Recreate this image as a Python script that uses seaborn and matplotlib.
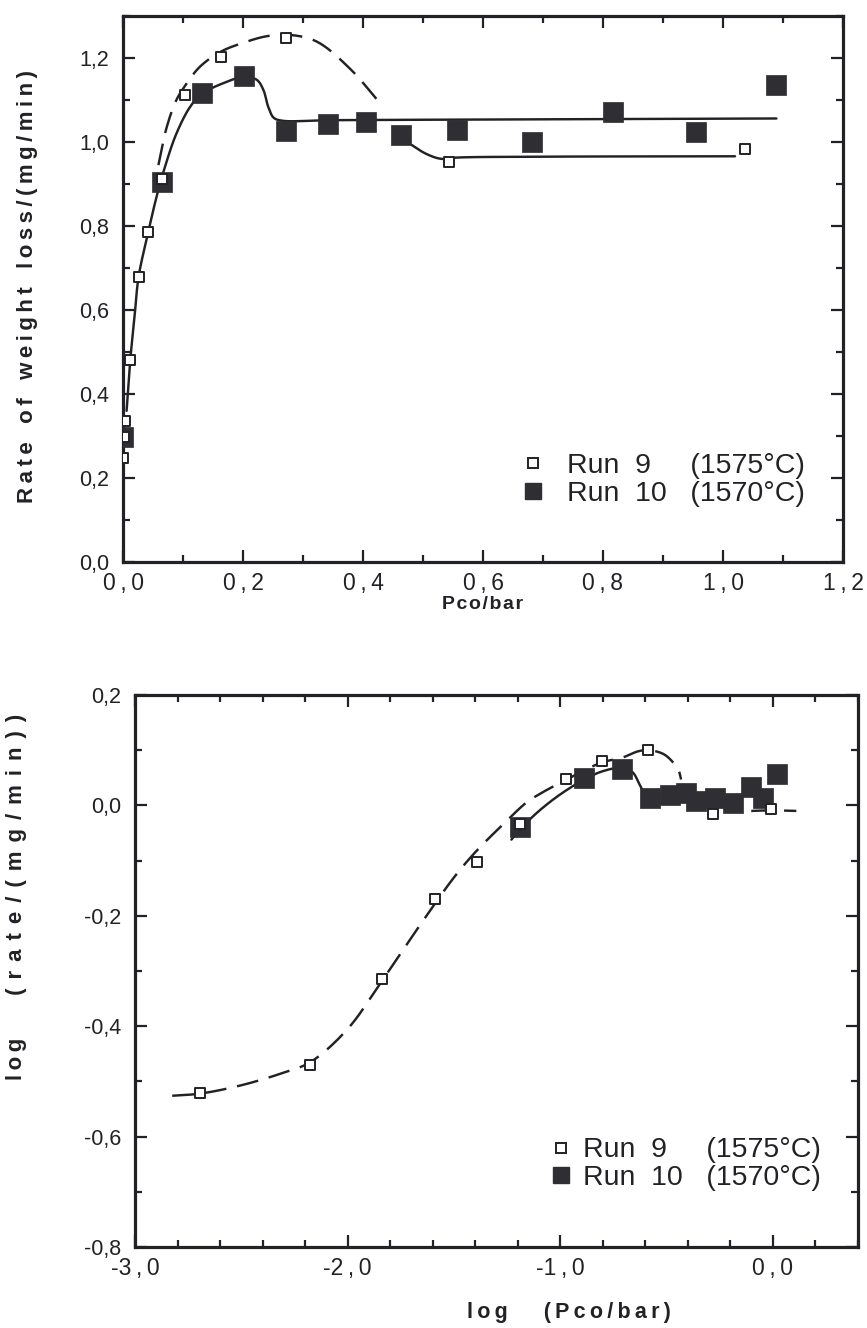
import numpy as np
import pandas as pd
import matplotlib
matplotlib.use("Agg")
import matplotlib.pyplot as plt
import seaborn as sns
from matplotlib.lines import Line2D
from matplotlib.ticker import MultipleLocator, FuncFormatter

# ---------------- data: linear scale (upper panel) ----------------
run9_p = [0.0, 0.002, 0.003, 0.012, 0.026, 0.042, 0.065, 0.104, 0.163, 0.271, 0.543, 1.037]
run9_rate = [0.248, 0.298, 0.336, 0.481, 0.679, 0.785, 0.913, 1.112, 1.203, 1.248, 0.953, 0.983]

run10_p = [0.0, 0.0645, 0.131, 0.202, 0.272, 0.342, 0.405, 0.463, 0.557, 0.682, 0.816, 0.955, 1.089]
run10_rate = [0.298, 0.905, 1.116, 1.156, 1.027, 1.043, 1.048, 1.017, 1.029, 1.001, 1.071, 1.025, 1.136]

# ---------------- data: log-log scale (lower panel) ----------------
run9_logp = [-2.692, -2.175, -1.839, -1.588, -1.393, -1.189, -0.975, -0.803, -0.587, -0.282, -0.008]
run9_lograte = [-0.521, -0.471, -0.315, -0.169, -0.103, -0.034, 0.048, 0.080, 0.100, -0.016, -0.007]

run10_logp = [-1.189, -0.887, -0.712, -0.579, -0.485, -0.407, -0.360, -0.274, -0.188, -0.102, -0.047, 0.020]
run10_lograte = [-0.040, 0.050, 0.066, 0.014, 0.018, 0.023, 0.008, 0.014, 0.004, 0.034, 0.014, 0.056]

# ---------------- hand-drawn guide curves (knots) ----------------
# upper panel
top_solid10_x = [0.006, 0.012, 0.019, 0.026, 0.042, 0.056, 0.070, 0.089, 0.112, 0.131, 0.167,
                 0.202, 0.223, 0.234, 0.242, 0.251, 0.264, 0.350, 1.089]
top_solid10_y = [0.360, 0.480, 0.580, 0.679, 0.785, 0.870, 0.941, 1.020, 1.084, 1.114, 1.140,
                 1.155, 1.148, 1.124, 1.084, 1.058, 1.051, 1.052, 1.056]
top_dash9_x = [0.059, 0.073, 0.089, 0.104, 0.128, 0.163, 0.200, 0.240, 0.278, 0.323, 0.378, 0.431]
top_dash9_y = [0.945, 1.036, 1.100, 1.135, 1.179, 1.215, 1.236, 1.252, 1.255, 1.239, 1.175, 1.088]
top_solid9_x = [0.481, 0.505, 0.530, 0.558, 0.700, 1.020]
top_solid9_y = [0.993, 0.972, 0.960, 0.963, 0.965, 0.966]

# lower panel
bot_dash9_x = [-2.825, -2.692, -2.500, -2.300, -2.175, -2.000, -1.839, -1.651, -1.495, -1.393,
               -1.260, -1.160, -1.100, -0.975, -0.803, -0.712, -0.634, -0.587, -0.510, -0.446, -0.432]
bot_dash9_y = [-0.526, -0.522, -0.507, -0.484, -0.465, -0.405, -0.318, -0.212, -0.128, -0.082,
               -0.031, 0.005, 0.020, 0.046, 0.078, 0.086, 0.098, 0.100, 0.092, 0.065, 0.047]
bot_solid10_x = [-1.230, -1.189, -1.100, -1.000, -0.887, -0.800, -0.712, -0.660, -0.630, -0.600]
bot_solid10_y = [-0.062, -0.043, -0.010, 0.020, 0.047, 0.062, 0.068, 0.060, 0.040, 0.017]
bot_tail9_x = [-0.102, -0.008, 0.110]
bot_tail9_y = [-0.010, -0.009, -0.010]

INK = "#222226"
FILL10 = "#2e2e33"
THIN = "\u2009"
HAIR = "\u200a"


def catmull_rom(xs, ys, sx=1.0, sy=1.0, per_seg=18):
    """Centripetal Catmull-Rom curve through the given knots."""
    P = np.column_stack([np.asarray(xs, float) * sx, np.asarray(ys, float) * sy])
    P = np.vstack([2 * P[0] - P[1], P, 2 * P[-1] - P[-2]])
    pts = []
    for i in range(1, len(P) - 2):
        p0, p1, p2, p3 = P[i - 1], P[i], P[i + 1], P[i + 2]
        t0 = 0.0
        t1 = t0 + max(np.linalg.norm(p1 - p0), 1e-9) ** 0.5
        t2 = t1 + max(np.linalg.norm(p2 - p1), 1e-9) ** 0.5
        t3 = t2 + max(np.linalg.norm(p3 - p2), 1e-9) ** 0.5
        t = np.linspace(t1, t2, per_seg, endpoint=False)[:, None]
        A1 = (t1 - t) / (t1 - t0) * p0 + (t - t0) / (t1 - t0) * p1
        A2 = (t2 - t) / (t2 - t1) * p1 + (t - t1) / (t2 - t1) * p2
        A3 = (t3 - t) / (t3 - t2) * p2 + (t - t2) / (t3 - t2) * p3
        B1 = (t2 - t) / (t2 - t0) * A1 + (t - t0) / (t2 - t0) * A2
        B2 = (t3 - t) / (t3 - t1) * A2 + (t - t1) / (t3 - t1) * A3
        C = (t2 - t) / (t2 - t1) * B1 + (t - t1) / (t2 - t1) * B2
        pts.append(C)
    pts.append(P[-2][None, :])
    pts = np.vstack(pts)
    return pd.DataFrame({"x": pts[:, 0] / sx, "y": pts[:, 1] / sy})


def tracked(text, gap=THIN, word_gap="    "):
    """Letter-spaced label text."""
    words = text.split(" ")
    return word_gap.join(gap.join(w) for w in words if w)


def comma_fmt(spaced):
    def f(v, pos):
        s = f"{v:.1f}"
        if s == "-0.0":
            s = "0.0"
        a, b = s.split(".")
        return f"{a}{THIN},{THIN}{b}" if spaced else f"{a},{b}"
    return FuncFormatter(f)


sns.set_theme(style="ticks")
plt.rcParams["font.family"] = ["Liberation Sans", "DejaVu Sans"]
plt.rcParams["text.color"] = INK
plt.rcParams["axes.labelcolor"] = INK
plt.rcParams["xtick.color"] = INK
plt.rcParams["ytick.color"] = INK
plt.rcParams["axes.edgecolor"] = INK

fig = plt.figure(figsize=(8.67, 13.28), dpi=100)
W, H = 867.0, 1328.0
ax1 = fig.add_axes([123 / W, 1 - 562 / H, 720 / W, 546 / H])
ax2 = fig.add_axes([135 / W, 1 - 1247 / H, 723 / W, 552 / H])

LW = 1.75
DASH = (0, (9, 4.5))
OPEN_S = 56
FILL_S = 195


def style_axes(ax):
    for sp in ax.spines.values():
        sp.set_linewidth(2.3)
        sp.set_color(INK)
        sp.set_visible(True)
    ax.tick_params(which="both", direction="in", top=True, right=True, width=1.6, color=INK)
    ax.tick_params(which="major", length=8.5)
    ax.tick_params(which="minor", length=5)
    ax.tick_params(axis="x", labelsize=16.5, pad=7)
    ax.tick_params(axis="y", labelsize=15.5, pad=10)
    ax.set_facecolor("white")


def draw_points(ax, x9, y9, x10, y10):
    sns.scatterplot(x=x10, y=y10, ax=ax, marker="s", s=FILL_S, color=FILL10,
                    edgecolor=FILL10, linewidth=0.5, zorder=4, legend=False)
    sns.scatterplot(x=x9, y=y9, ax=ax, marker="s", s=OPEN_S, color="white",
                    edgecolor=INK, linewidth=1.4, zorder=5, legend=False)


def draw_curve(ax, xs, ys, sx, sy, dashed):
    d = catmull_rom(xs, ys, sx, sy)
    kw = dict(linestyle=DASH) if dashed else {}
    sns.lineplot(data=d, x="x", y="y", ax=ax, sort=False, estimator=None, color=INK,
                 linewidth=LW, zorder=3, legend=False, **kw)


def add_legend(ax, anchor, handlelen, textpad):
    h9 = Line2D([], [], linestyle="none", marker="s", markersize=6.8, markerfacecolor="white",
                markeredgecolor=INK, markeredgewidth=1.4)
    h10 = Line2D([], [], linestyle="none", marker="s", markersize=11.5, markerfacecolor=FILL10,
                 markeredgecolor=FILL10)
    ax.legend([h9, h10], ["Run  9     (1575°C)", "Run  10   (1570°C)"], loc="center left",
              bbox_to_anchor=anchor, frameon=False, fontsize=20.5, handlelength=handlelen,
              handletextpad=textpad, borderpad=0, borderaxespad=0, labelspacing=0.05)


# ---------------- upper panel ----------------
style_axes(ax1)
draw_curve(ax1, top_solid10_x, top_solid10_y, 600, 420, False)
draw_curve(ax1, top_dash9_x, top_dash9_y, 600, 420, True)
draw_curve(ax1, top_solid9_x, top_solid9_y, 600, 420, False)
draw_points(ax1, run9_p, run9_rate, run10_p, run10_rate)
ax1.set_xlim(0, 1.2)
ax1.set_ylim(0, 1.3)
ax1.xaxis.set_major_locator(MultipleLocator(0.2))
ax1.xaxis.set_minor_locator(MultipleLocator(0.1))
ax1.yaxis.set_major_locator(MultipleLocator(0.2))
ax1.yaxis.set_minor_locator(MultipleLocator(0.1))
ax1.xaxis.set_major_formatter(comma_fmt(True))
ax1.yaxis.set_major_formatter(comma_fmt(False))
ax1.set_xlabel(tracked("Pco/bar", gap=HAIR), fontsize=14, fontweight="bold")
ax1.set_ylabel(tracked("Rate of weight loss/(mg/min)", word_gap="   "), fontsize=16,
               fontweight="bold")
ax1.xaxis.set_label_coords(0.5, -0.062)
ax1.yaxis.set_label_coords(-0.118, 0.505)
add_legend(ax1, (0.55, 0.15), 1.0, 0.7)

# ---------------- lower panel ----------------
style_axes(ax2)
draw_curve(ax2, bot_dash9_x, bot_dash9_y, 213, 552, True)
draw_curve(ax2, bot_solid10_x, bot_solid10_y, 213, 552, False)
draw_curve(ax2, bot_tail9_x, bot_tail9_y, 213, 552, True)
draw_points(ax2, run9_logp, run9_lograte, run10_logp, run10_lograte)
ax2.set_xlim(-3.0, 0.4)
ax2.set_ylim(-0.8, 0.2)
ax2.xaxis.set_major_locator(MultipleLocator(1.0))
ax2.xaxis.set_minor_locator(MultipleLocator(0.2))
ax2.yaxis.set_major_locator(MultipleLocator(0.2))
ax2.yaxis.set_minor_locator(MultipleLocator(0.1))
ax2.xaxis.set_major_formatter(comma_fmt(True))
ax2.yaxis.set_major_formatter(comma_fmt(False))
ax2.set_xlabel(tracked("log") + "      " + tracked("(Pco/bar)"), fontsize=15.5, fontweight="bold")
ax2.set_ylabel(tracked("log") + "       " + tracked("(rate/(mg/min))", gap=THIN + THIN),
               fontsize=16, fontweight="bold")
ax2.xaxis.set_label_coords(0.60, -0.100)
ax2.yaxis.set_label_coords(-0.150, 0.634)
add_legend(ax2, (0.573, 0.15), 0.8, 0.37)

fig.savefig("out.png", dpi=100, facecolor="white")
